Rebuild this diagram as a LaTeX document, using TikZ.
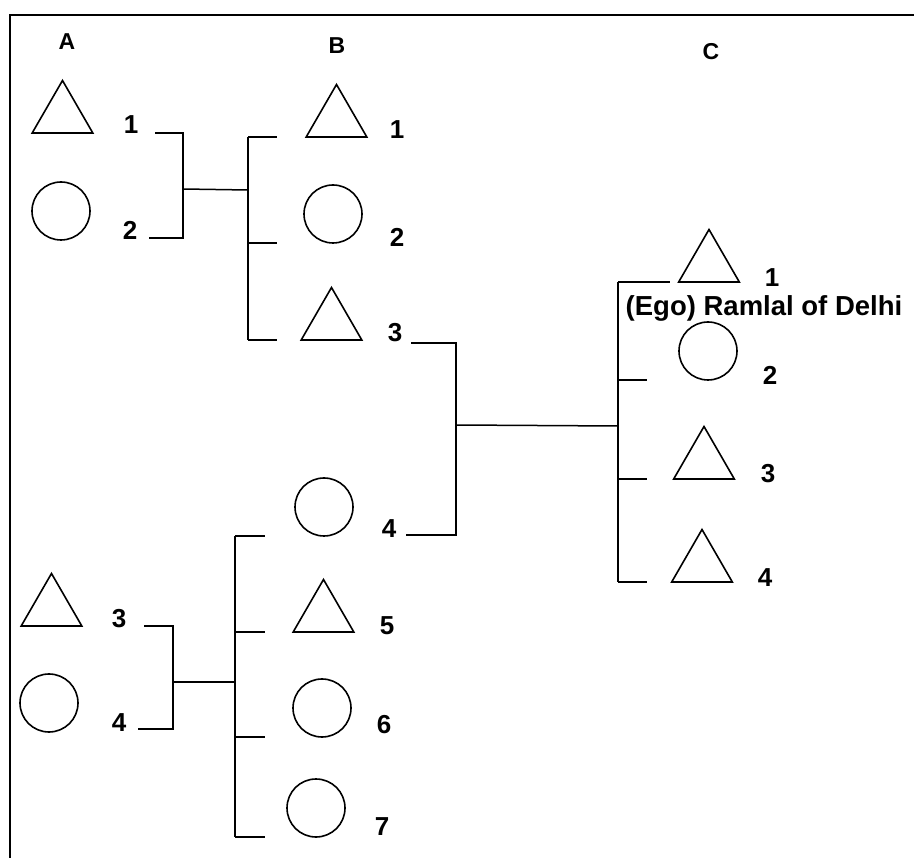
\documentclass[tikz,border=0pt]{standalone}
\usepackage{fontspec}
\setmainfont{Liberation Sans}
\usetikzlibrary{shapes.geometric,positioning}
\tikzset{
  pedigree/.style={x=1pt, y=-1pt},
  male/.style={
    regular polygon, regular polygon sides=3, draw, line width=1.6pt,
    minimum size=70pt, inner sep=0pt, outer sep=0pt, anchor=south
  },
  female/.style={
    circle, draw, line width=1.6pt,
    minimum size=58pt, inner sep=0pt, outer sep=0pt
  },
  num/.style={font=\fontsize{26}{30}\selectfont\bfseries, inner sep=0pt},
  egotext/.style={font=\fontsize{27.5}{32}\selectfont\bfseries, inner sep=0pt},
  gen/.style={font=\fontsize{23}{27}\selectfont\bfseries, inner sep=0pt},
  kin/.style={line width=1.5pt},
  frame/.style={line width=2.6pt}
}

\begin{document}
\begin{tikzpicture}[pedigree]
\useasboundingbox (0,0) rectangle (914,858);
\draw[frame] (914,15) -- (10,15) -- (10,858);

% generations
\node[gen] (genA) at (67,42) {A};
\node[gen] (genB) at (337,46) {B};
\node[gen] (genC) at (711,52) {C};

% A : upper couple
\node[male] (A1) at (62.5,133) {};
\node[female] (A2) at (61,211) {};
\node[num] (nA1) at (131,125) {1};
\node[num] (nA2) at (130,230) {2};

% A : lower couple
\node[male] (A3) at (51.5,626) {};
\node[female] (A4) at (49,703) {};
\node[num] (nA3) at (119,619) {3};
\node[num] (nA4) at (119,723) {4};

% B : siblings
\node[male] (B1) at (336.5,137) {};
\node[female] (B2) at (333,214) {};
\node[male] (B3) at (331.5,340) {};
\node[female] (B4) at (324,507) {};
\node[male] (B5) at (323.5,632) {};
\node[female] (B6) at (322,708) {};
\node[female] (B7) at (316,808) {};
\node[num] (nB1) at (397,130) {1};
\node[num] (nB2) at (397,237) {2};
\node[num] (nB3) at (395,333) {3};
\node[num] (nB4) at (389,529) {4};
\node[num] (nB5) at (387,626) {5};
\node[num] (nB6) at (384,725) {6};
\node[num] (nB7) at (382,827) {7};

% C : siblings
\node[male] (C1) at (709,282) {};
\node[female] (C2) at (708,351) {};
\node[male] (C3) at (704,479) {};
\node[male] (C4) at (702,582) {};
\node[num] (nC1) at (772,278) {1};
\node[num] (nC2) at (770,375) {2};
\node[num] (nC3) at (768,474) {3};
\node[num] (nC4) at (765,578) {4};
\node[egotext] (ego) at (764,308) {(Ego) Ramlal of Delhi};

% bracket points
\coordinate (a12t) at (155,133);
\coordinate (a12b) at (149,238);
\coordinate (a12m) at (183,189);
\coordinate (a34t) at (144,626);
\coordinate (a34b) at (138,729);
\coordinate (a34m) at (173,682);
\coordinate (b34t) at (411,343);
\coordinate (b34b) at (406,535);
\coordinate (b34m) at (456,425);
\coordinate (sibB) at (248,190);
\coordinate (sibBl) at (235,682);
\coordinate (sibC) at (618,426);

% upper family
\draw[kin] (a12t) -| (a12m) |- (a12b);
\draw[kin] (a12m) -- (sibB);
\draw[kin] (sibB |- B1.south) -- (sibB |- B3.south);
\foreach \k in {B1,B2,B3}
  \draw[kin] (sibB |- \k.south) -- ++(29,0);

% lower family
\draw[kin] (a34t) -| (a34m) |- (a34b);
\draw[kin] (a34m) -- (sibBl);
\draw[kin] (sibBl |- B4.south) -- (sibBl |- B7.south);
\foreach \k in {B4,B5,B6,B7}
  \draw[kin] (sibBl |- \k.south) -- ++(30,0);

% ego's family
\draw[kin] (b34t) -| (b34m) |- (b34b);
\draw[kin] (b34m) -- (sibC);
\draw[kin] (sibC |- C1.south) -- (sibC |- C4.south);
\draw[kin] (sibC |- C1.south) -- ++(52,0);
\foreach \k in {C2,C3,C4}
  \draw[kin] (sibC |- \k.south) -- ++(29,0);

\end{tikzpicture}
\end{document}
